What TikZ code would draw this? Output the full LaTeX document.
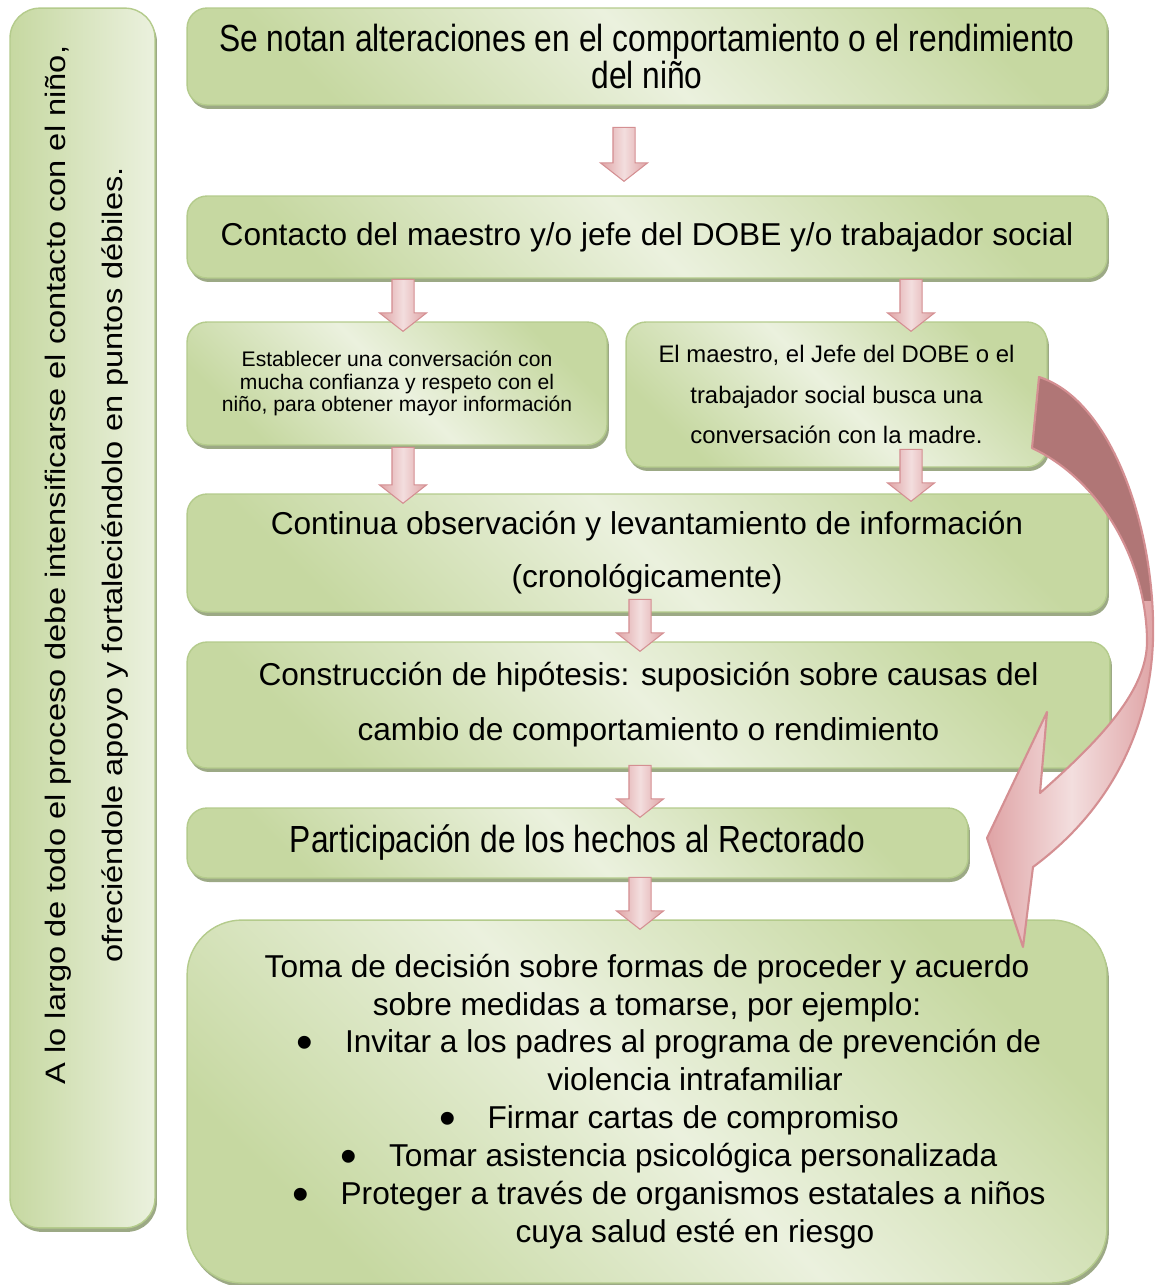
\documentclass[tikz,border=0pt]{standalone}
\usepackage{fontspec}
\setmainfont{Liberation Sans}
\newfontfamily\tallfont{Liberation Sans}[FakeStretch=0.84]
\newfontfamily\sidefont{Liberation Sans}[FakeStretch=1.16]
\usetikzlibrary{shapes.arrows,shadows}

\definecolor{boxlight}{HTML}{EBF1DE}
\definecolor{boxdark}{HTML}{C6D8A1}
\definecolor{boxline}{HTML}{B4CB8C}
\definecolor{boxshadow}{HTML}{9CA985}
\definecolor{arrowlight}{HTML}{F3DEDE}
\definecolor{arrowpink}{HTML}{DFA3A5}
\definecolor{arrowline}{HTML}{D48F92}
\definecolor{arrowback}{HTML}{B07676}

\newcommand{\itm}{\raisebox{-0.18em}{\scalebox{1.5}{\textbullet}}\hspace{18pt}}
\newcommand{\swoosh}{(1039,377) .. controls (1112,400) and (1156,530) .. (1153,640)
 .. controls (1150,730) and (1110,810) .. (1033,867) -- (1023,947) -- (987,838)
 -- (1047,712) -- (1040,793) .. controls (1100,740) and (1148,690) .. (1147,640)
 .. controls (1146,560) and (1100,480) .. (1032,448) -- cycle}

\begin{document}
\begin{tikzpicture}[
 x=0.02cm,y=-0.02cm,
 box/.style={draw=boxline,line width=0.8pt,rounded corners=0.4cm,align=center,inner sep=0pt,
  top color=boxdark,bottom color=boxdark,middle color=boxlight,shading angle=-45,
  drop shadow={shadow xshift=0.04cm,shadow yshift=-0.08cm,fill=boxshadow,opacity=1}},
 big/.style={font=\fontsize{18}{#1}\selectfont},
 tall/.style={font=\tallfont\fontsize{21.5}{#1}\selectfont},
 blockarrow/.style={single arrow,shape border rotate=270,draw=arrowline,line width=0.6pt,
  inner sep=0.21cm,minimum width=0.92cm,minimum height=1.04cm,single arrow head extend=0.25cm,
  single arrow tip angle=104,left color=arrowpink,right color=arrowpink,middle color=arrowlight}
]
\useasboundingbox (0,0) rectangle (1162,1285);
% side note
\node[box,minimum width=2.9cm,minimum height=24.4cm,rounded corners=0.6cm,left color=boxdark,right color=boxlight] (side) at (82.5,618) {};
\node[rotate=90,align=center,font=\sidefont\fontsize{16}{32.4}\selectfont] (sidetext) at (86.5,565) {A lo largo de todo el proceso debe intensificarse el contacto con el niño,\\ofreciéndole apoyo y fortaleciéndolo en puntos débiles.};
% steps
\node[box,tall=21,minimum width=18.4cm,minimum height=1.94cm] (notice) at (647,56.5) {Se notan alteraciones en el comportamiento o el rendimiento\\del niño};
\node[box,big=26,minimum width=18.4cm,minimum height=1.64cm] (contact) at (647,237) {Contacto del maestro y/o jefe del DOBE y/o trabajador social};
\node[box,font=\fontsize{12}{12.8}\selectfont,minimum width=8.4cm,minimum height=2.46cm] (child) at (397,383.5) {Establecer una conversación con\\mucha confianza y respeto con el\\niño, para obtener mayor información};
\node[box,font=\fontsize{13.6}{23.3}\selectfont,minimum width=8.42cm,minimum height=2.9cm] (mother) at (836.5,394.5) {El maestro, el Jefe del DOBE o el\\trabajador social busca una\\conversación con la madre.};
\node[box,big=30.2,minimum width=18.4cm,minimum height=2.36cm] (observe) at (647,553) {Continua observación y levantamiento de información\\(cronológicamente)};
\node[box,big=31.3,minimum width=18.46cm,minimum height=2.52cm] (hypothesis) at (648.5,705) {Construcción de hipótesis: suposición sobre causas del\\cambio de comportamiento o rendimiento};
\node[box,tall=24,minimum width=15.62cm,minimum height=1.4cm] (rector) at (577.5,843) {Participación de los hechos al Rectorado};
\node[box,big=21.6,minimum width=18.4cm,minimum height=7.26cm,rounded corners=1.1cm] (decision) at (647,1101.5) {Toma de decisión sobre formas de proceder y acuerdo\\
 sobre medidas a tomarse, por ejemplo:\\
 \hspace*{0.88cm}\itm Invitar a los padres al programa de prevención de\\
 \hspace*{1.92cm}violencia intrafamiliar\\
 \hspace*{0.88cm}\itm Firmar cartas de compromiso\\
 \hspace*{0.88cm}\itm Tomar asistencia psicológica personalizada\\
 \hspace*{0.88cm}\itm Proteger a través de organismos estatales a niños\\
 \hspace*{1.92cm}cuya salud esté en riesgo};
% block arrows
\node[blockarrow,minimum height=1.08cm] (a1) at (624,150) {};
\node[blockarrow] (a2) at (403,301) {};
\node[blockarrow] (a3) at (911,301) {};
\node[blockarrow,minimum height=1.12cm] (a4) at (403,471) {};
\node[blockarrow] (a5) at (911,471) {};
\node[blockarrow] (a6) at (640,621) {};
\node[blockarrow] (a7) at (640,787) {};
\node[blockarrow] (a8) at (640,899) {};
% curved arrow from the mother talk to the decision
\begin{scope}
 \shade[left color=arrowpink,right color=arrowpink,middle color=arrowlight] \swoosh;
 \clip (1000,360) rectangle (1170,600);
 \fill[arrowback] \swoosh;
\end{scope}
\draw[arrowline,line width=1.2pt,line join=round] \swoosh;
\end{tikzpicture}
\end{document}
